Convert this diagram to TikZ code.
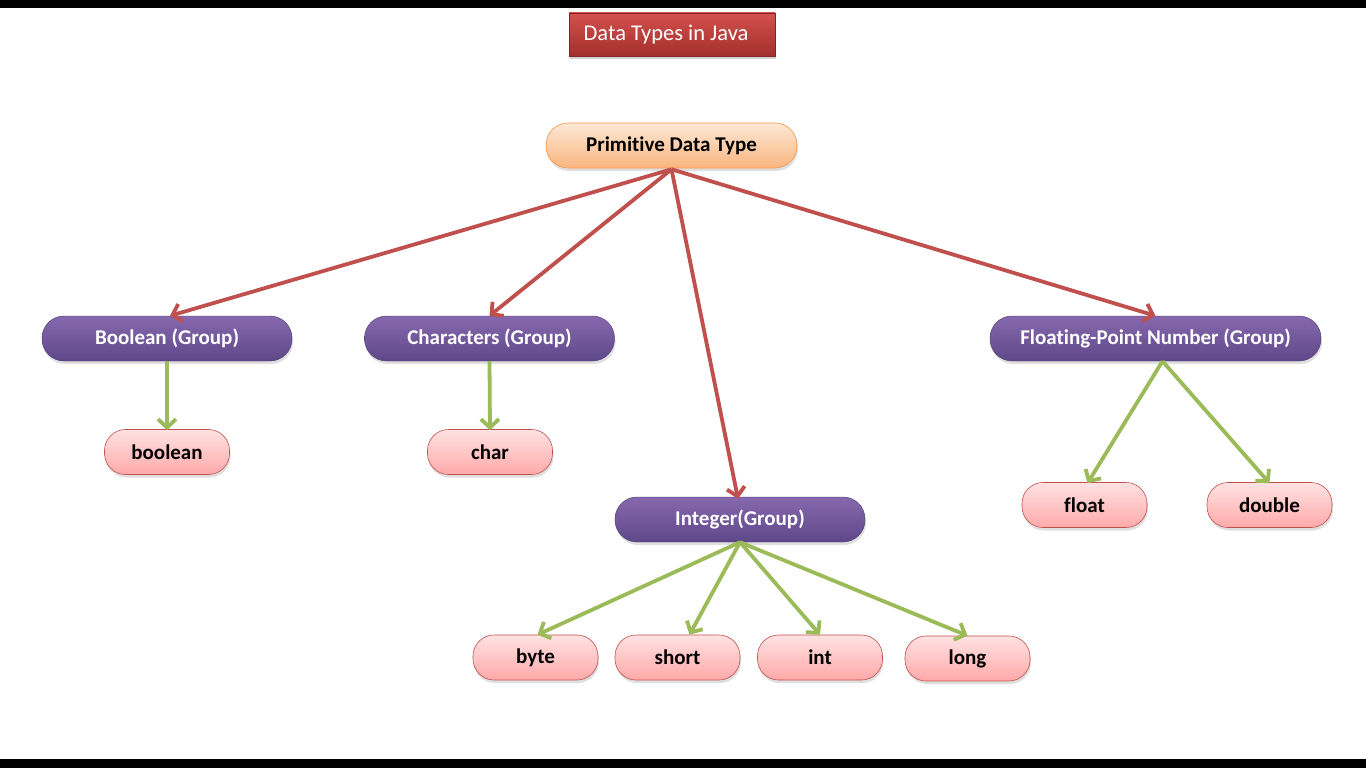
\documentclass[tikz,border=0pt]{standalone}
\usepackage{fontspec}
\setmainfont[Ligatures=NoCommon]{Carlito}
\usetikzlibrary{arrows.meta,shadows}
\definecolor{redline}{HTML}{C0504D}
\definecolor{greenline}{HTML}{9BBB59}
\definecolor{purtop}{HTML}{8768AE}
\definecolor{purbot}{HTML}{5E4889}
\definecolor{pinktop}{HTML}{FFE2E2}
\definecolor{pinkbot}{HTML}{FFA9A9}
\definecolor{pinkborder}{HTML}{C0504D}
\definecolor{peachtop}{HTML}{FDE8D6}
\definecolor{peachbot}{HTML}{FAB57F}
\definecolor{peachborder}{HTML}{F79646}
\definecolor{titletop}{HTML}{D3504D}
\definecolor{titlebot}{HTML}{A3302D}
\tikzset{
  shadowed/.style={drop shadow={opacity=0.25,shadow xshift=1pt,shadow yshift=-3pt}},
  groupbox/.style={shadowed,top color=purtop,bottom color=purbot,draw=purbot!80!black,line width=0.4pt,
    minimum width=250pt,minimum height=45pt,rounded corners=22pt,text=white,
    font=\bfseries\fontsize{21}{24}\selectfont,inner sep=0pt},
  leafbox/.style={shadowed,top color=pinktop,bottom color=pinkbot,draw=pinkborder,line width=0.6pt,
    minimum width=125pt,minimum height=45pt,rounded corners=21pt,text=black,
    font=\bfseries\fontsize{21}{24}\selectfont,inner sep=0pt},
  rootbox/.style={shadowed,top color=peachtop,bottom color=peachbot,draw=peachborder,line width=0.6pt,
    minimum width=251pt,minimum height=45pt,rounded corners=22pt,text=black,
    font=\bfseries\fontsize{21}{24}\selectfont,inner sep=0pt},
  titlebox/.style={drop shadow={opacity=0.35,shadow xshift=1pt,shadow yshift=-3pt},top color=titletop,bottom color=titlebot,draw=titlebot!80!black,
    line width=0.4pt,minimum width=206pt,minimum height=43pt,text=white,
    font=\fontsize{22.5}{26}\selectfont,inner sep=0pt},
  redarrow/.style={draw=redline,line width=3.8pt,-{Straight Barb[length=8.5pt,width=18pt]}},
  greenarrow/.style={draw=greenline,line width=3.8pt,-{Straight Barb[length=8.5pt,width=18pt]}}
}
\begin{document}
\begin{tikzpicture}[x=1pt,y=-1pt]
\useasboundingbox (0,0) rectangle (1366,768);
\fill[white] (0,0) rectangle (1366,768);
\fill[black] (0,0) rectangle (1366,8);
\fill[black] (0,759) rectangle (1366,768);

\node[titlebox] (title) at (672,34.5) {Data Types in Java\hspace*{12pt}};
\node[rootbox] (prim) at (671.5,145.5) {Primitive Data Type};

\node[groupbox] (bgrp) at (167,338.5) {Boolean (Group)};
\node[groupbox] (cgrp) at (489.5,338.5) {Characters (Group)};
\node[groupbox,minimum width=331pt] (fgrp) at (1155.5,338.5) {Floating-Point Number (Group)};
\node[groupbox] (igrp) at (740,519.5) {Integer(Group)};

\node[leafbox] (boolean) at (167,452) {boolean};
\node[leafbox] (char) at (490,452) {char};
\node[leafbox] (float) at (1084.5,505) {float};
\node[leafbox] (double) at (1269.5,505) {double};
\node[leafbox] (byte) at (535.5,657.5) {byte};
\node[leafbox] (short) at (677.5,657.5) {short};
\node[leafbox] (int) at (820,657.5) {int};
\node[leafbox] (long) at (967.5,658.5) {long};

\coordinate (psrc) at ([yshift=-1pt]prim.south);
\draw[redarrow] (psrc) -- ([xshift=3pt]bgrp.north);
\draw[redarrow] (psrc) -- (cgrp.north);
\draw[redarrow] (psrc) -- ([xshift=-2pt,yshift=-2pt]igrp.north);
\draw[redarrow] (psrc) -- (fgrp.north);

\draw[greenarrow] (bgrp.south) -- ([yshift=-1pt]boolean.north);
\draw[greenarrow] (cgrp.south) -- ([yshift=-1pt]char.north);
\coordinate (fsrc) at ([xshift=7pt]fgrp.south);
\draw[greenarrow] (fsrc) -- ([xshift=3pt,yshift=-1pt]float.north);
\draw[greenarrow] (fsrc) -- ([yshift=-1pt]double.north);
\coordinate (isrc) at (igrp.south);
\draw[greenarrow] (isrc) -- ([xshift=2pt]byte.north);
\draw[greenarrow] (isrc) -- ([xshift=12pt]short.north);
\draw[greenarrow] (isrc) -- (int.north);
\draw[greenarrow] (isrc) -- (long.north);
\end{tikzpicture}
\end{document}
